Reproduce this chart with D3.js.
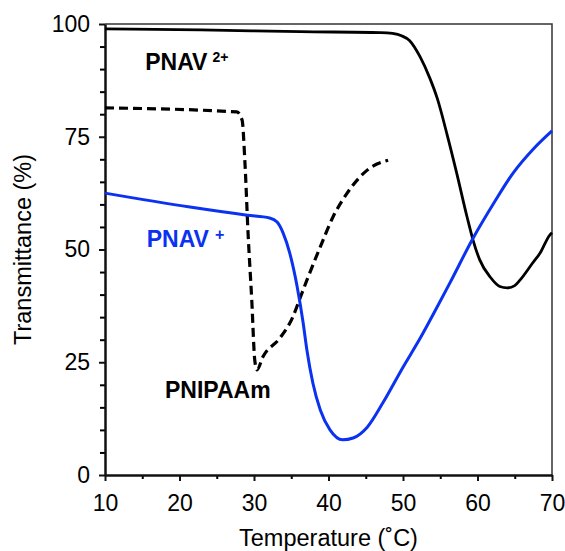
<!DOCTYPE html>
<html lang="en">
<head>
<meta charset="UTF-8">
<title>Transmittance vs temperature</title>
<script src="https://d3js.org/d3.v7.min.js"></script>
<style>
  body { margin: 0; background: #fff; }
  text { font-family: "Liberation Sans", Arial, sans-serif; fill: #000; }
  .lbl { font-weight: bold; }
</style>
</head>
<body>
<div id="chart"></div>
<script>
// PNAV 2+ (solid black)
var pnav2T = [10, 22.8, 36.2, 47.0, 48.6, 49.8, 50.9, 52.3, 53.6, 54.6, 55.9, 57.2, 58.6, 59.4, 60.3, 61.7, 63.0, 64.0, 65.0, 65.7, 67.4, 68.4, 69.7, 70];
var pnav2V = [98.9, 98.7, 98.3, 98.1, 97.9, 97.4, 96.3, 92.7, 88.0, 83.5, 75.6, 67.0, 57.2, 52.1, 47.7, 43.9, 41.8, 41.5, 42.0, 43.2, 47.0, 49.2, 53.2, 53.7];

// PNAV + (solid blue)
var pnav1T = [10, 21.4, 29.1, 32.1, 33.1, 33.9, 34.8, 35.8, 36.6, 37.1, 37.9, 38.9, 40.2, 41.9, 43.3, 45.2, 47.3, 50.0, 52.3, 54.6, 56.3, 59.4, 62.3, 64.8, 67.5, 70];
var pnav1V = [62.5, 59.4, 57.6, 57.0, 56.1, 53.7, 49.2, 41.7, 33.7, 27.7, 20.4, 14.4, 10.0, 7.8, 8.2, 10.6, 16.0, 23.9, 30.3, 37.3, 42.6, 52.5, 60.6, 67.0, 72.3, 76.3];

// PNIPAAm (dashed black)
var pnipT = [10, 27.7, 28.4, 28.8, 29.2, 29.7, 30.1, 30.4, 31.2, 33.5, 35.2, 36.2, 37.1, 38.9, 40.6, 42.5, 45.2, 48.0];
var pnipV = [81.4, 80.5, 78.7, 68.7, 53.7, 38.8, 25.5, 23.3, 26.2, 30.4, 35.0, 39.3, 43.2, 50.6, 57.2, 62.5, 67.6, 69.8];

var xTicks = [10, 20, 30, 40, 50, 60, 70];
var yTicks = [0, 25, 50, 75, 100];

var blue = "#0a32f0";

var W = 565, H = 551;
var margin = {top: 24, right: 13, bottom: 76, left: 105};
var width = W - margin.left - margin.right,
    height = H - margin.top - margin.bottom;

var svg = d3.select("#chart").append("svg")
    .attr("width", W)
    .attr("height", H);

var g = svg.append("g")
    .attr("transform", "translate(" + margin.left + "," + margin.top + ")");

var x = d3.scaleLinear().domain([10, 70]).range([0, width]);
var y = d3.scaleLinear().domain([0, 100]).range([height, 0]);

// frame (top and right)
g.append("path")
    .attr("d", "M0,0H" + width + "V" + height)
    .attr("fill", "none")
    .attr("stroke", "#333")
    .attr("stroke-width", 1.5);

// minor ticks
g.append("g")
    .attr("transform", "translate(0," + height + ")")
    .call(d3.axisBottom(x).tickValues(d3.range(15, 70, 10)).tickSize(4).tickFormat(""))
    .call(function(a) { a.select(".domain").remove(); a.selectAll("line").attr("stroke-width", 2); });
g.append("g")
    .call(d3.axisLeft(y).tickValues(d3.range(5, 100, 5).filter(function(d) { return d % 25; })).tickSize(5).tickFormat(""))
    .call(function(a) { a.select(".domain").remove(); a.selectAll("line").attr("stroke-width", 2); });

// major axes
var xAxis = g.append("g")
    .attr("transform", "translate(0," + height + ")")
    .call(d3.axisBottom(x).tickValues(xTicks).tickSize(6).tickSizeOuter(0).tickPadding(14));
var yAxis = g.append("g")
    .call(d3.axisLeft(y).tickValues(yTicks).tickSize(6).tickSizeOuter(0).tickPadding(9));

[xAxis, yAxis].forEach(function(a) {
  a.select(".domain").attr("stroke", "#111").attr("stroke-width", 2.5);
  a.selectAll("line").attr("stroke", "#111").attr("stroke-width", 2);
  a.selectAll("text").style("font-size", "23px").attr("fill", "#000");
});

// axis titles
g.append("text")
    .attr("x", width / 2)
    .attr("y", height + 71)
    .attr("text-anchor", "middle")
    .style("font-size", "23.5px")
    .text("Temperature (\u02DAC)");

g.append("text")
    .attr("transform", "translate(" + (-74) + "," + (height / 2) + ") rotate(-90)")
    .attr("text-anchor", "middle")
    .style("font-size", "23.5px")
    .text("Transmittance (%)");

function series(T, V) {
  return T.map(function(t, i) { return [t, V[i]]; });
}

var line = d3.line()
    .x(function(d) { return x(d[0]); })
    .y(function(d) { return y(d[1]); })
    .curve(d3.curveMonotoneX);

g.append("path")
    .datum(series(pnipT, pnipV))
    .attr("d", line)
    .attr("fill", "none")
    .attr("stroke", "#000")
    .attr("stroke-width", 3.2)
    .attr("stroke-dasharray", "9,5");

g.append("path")
    .datum(series(pnav2T, pnav2V))
    .attr("d", line)
    .attr("fill", "none")
    .attr("stroke", "#000")
    .attr("stroke-width", 2.8);

g.append("path")
    .datum(series(pnav1T, pnav1V))
    .attr("d", line)
    .attr("fill", "none")
    .attr("stroke", blue)
    .attr("stroke-width", 3);

// series labels
var l2 = g.append("text").attr("class", "lbl")
    .attr("x", x(15.4)).attr("y", y(89.8))
    .style("font-size", "23px");
l2.append("tspan").text("PNAV");
l2.append("tspan").attr("dx", 5).attr("dy", -8).style("font-size", "14px").text("2+");

var l1 = g.append("text").attr("class", "lbl")
    .attr("x", x(15.6)).attr("y", y(50.6))
    .style("font-size", "23px")
    .style("fill", blue);
l1.append("tspan").text("PNAV");
l1.append("tspan").attr("dx", 6).attr("dy", -7).style("font-size", "16px").text("+");

g.append("text").attr("class", "lbl")
    .attr("x", x(18.05)).attr("y", y(17.1))
    .style("font-size", "23px")
    .text("PNIPAAm");
</script>
</body>
</html>
